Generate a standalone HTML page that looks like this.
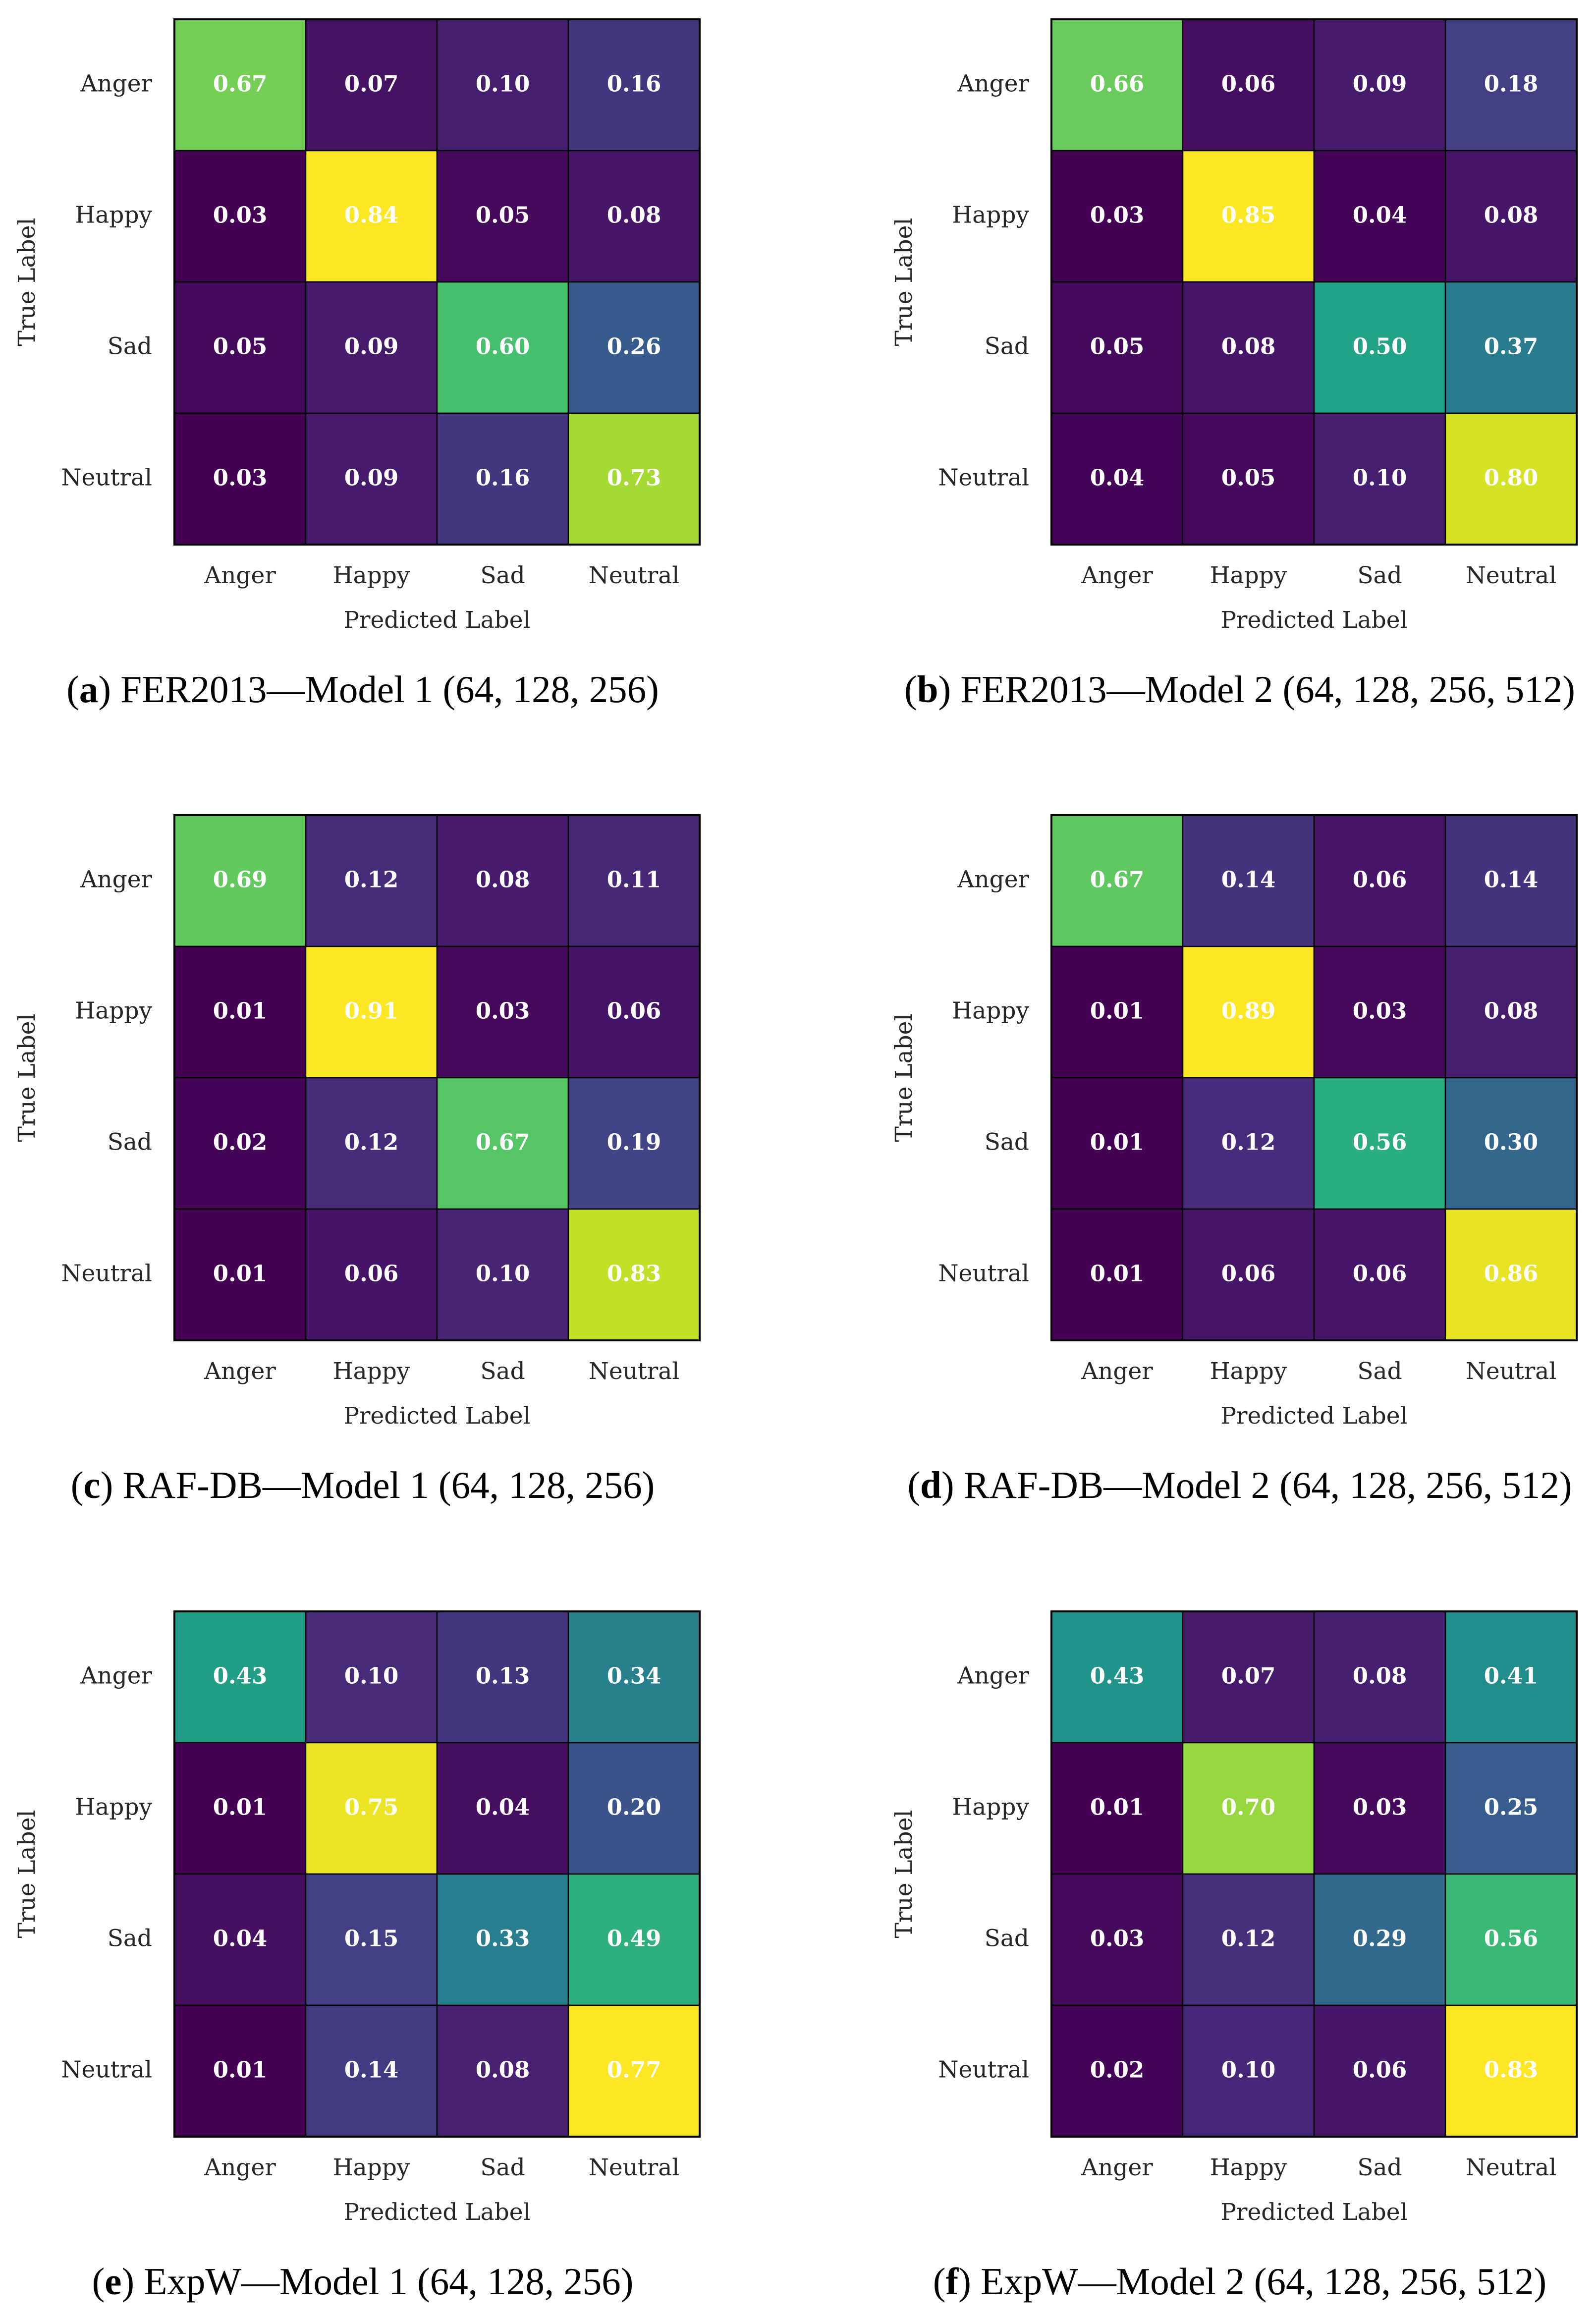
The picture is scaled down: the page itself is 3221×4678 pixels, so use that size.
<!DOCTYPE html>
<html><head><meta charset="utf-8"><style>
html,body{margin:0;padding:0;background:#fff;}
svg{display:block;}
</style></head><body>
<svg id="fig" xmlns="http://www.w3.org/2000/svg" width="3221" height="4678" viewBox="0 0 3221 4678"></svg>
<script>
const classLabels = ["Anger","Happy","Sad","Neutral"];
const matA = [[0.67,0.07,0.10,0.16],[0.03,0.84,0.05,0.08],[0.05,0.09,0.60,0.26],[0.03,0.09,0.16,0.73]];
const matB = [[0.66,0.06,0.09,0.18],[0.03,0.85,0.04,0.08],[0.05,0.08,0.50,0.37],[0.04,0.05,0.10,0.80]];
const matC = [[0.69,0.12,0.08,0.11],[0.01,0.91,0.03,0.06],[0.02,0.12,0.67,0.19],[0.01,0.06,0.10,0.83]];
const matD = [[0.67,0.14,0.06,0.14],[0.01,0.89,0.03,0.08],[0.01,0.12,0.56,0.30],[0.01,0.06,0.06,0.86]];
const matE = [[0.43,0.10,0.13,0.34],[0.01,0.75,0.04,0.20],[0.04,0.15,0.33,0.49],[0.01,0.14,0.08,0.77]];
const matF = [[0.43,0.07,0.08,0.41],[0.01,0.70,0.03,0.25],[0.03,0.12,0.29,0.56],[0.02,0.10,0.06,0.83]];
const panelLetters = ["a","b","c","d","e","f"];
const panelTitles = [" FER2013—Model 1 (64, 128, 256)"," FER2013—Model 2 (64, 128, 256, 512)"," RAF-DB—Model 1 (64, 128, 256)"," RAF-DB—Model 2 (64, 128, 256, 512)"," ExpW—Model 1 (64, 128, 256)"," ExpW—Model 2 (64, 128, 256, 512)"];
const matrices = [matA,matB,matC,matD,matE,matF];

const viridis = ["#440154","#482475","#414487","#355f8d","#2a788e","#21918c","#22a884","#44bf70","#7ad151","#bddf26","#fde725"];
function hex(h){return [1,3,5].map(i=>parseInt(h.substr(i,2),16));}
function cmap(t){
  t=Math.max(0,Math.min(1,t));
  const p=t*10, i=Math.min(9,Math.floor(p)), f=p-i;
  const a=hex(viridis[i]), b=hex(viridis[i+1]);
  return "rgb("+a.map((v,k)=>Math.round(v+(b[k]-v)*f)).join(",")+")";
}
const NS="http://www.w3.org/2000/svg";
const svg=document.getElementById("fig");
function mk(tag,attrs,parent){const e=document.createElementNS(NS,tag);for(const k in attrs)e.setAttribute(k,attrs[k]);parent.appendChild(e);return e;}

const colX=[352,2122], rowY=[39,1645,3252], size=1060;
const serif='"DejaVu Serif","Liberation Serif",serif';
matrices.forEach((m,p)=>{
  const x0=colX[p%2], y0=rowY[Math.floor(p/2)];
  const cell=size/4;
  const g=mk("g",{},svg);
  
  
  const flat=m.flat(), vmin=Math.min(...flat), vmax=Math.max(...flat);
  m.forEach((row,r)=>row.forEach((v,c)=>{
    const rect=mk("rect",{x:x0+c*cell,y:y0+r*cell,width:cell,height:cell,fill:cmap((v-vmin)/(vmax-vmin)),stroke:"#000","stroke-width":2.5},g);
    
    
    const t=mk("text",{x:x0+c*cell+cell/2,y:y0+r*cell+cell/2+13,"text-anchor":"middle","font-family":serif,"font-weight":"bold","font-size":45,fill:"#fff"},g);
    t.textContent=v.toFixed(2);
    
    
  }));
  const border=mk("rect",{x:x0,y:y0,width:size,height:size,fill:"none",stroke:"#000","stroke-width":4},g);
  
  
  classLabels.forEach((lab,i)=>{
    const ty=mk("text",{x:x0-45,y:y0+i*cell+cell/2+13,"text-anchor":"end","font-family":serif,"font-size":47,fill:"#262626"},g);
    ty.textContent=lab;
    
    
    const tx=mk("text",{x:x0+i*cell+cell/2,y:y0+size+78,"text-anchor":"middle","font-family":serif,"font-size":47,fill:"#262626"},g);
    tx.textContent=lab;
    
    
  });
  const xl=mk("text",{x:x0+size/2,y:y0+size+168,"text-anchor":"middle","font-family":serif,"font-size":47,fill:"#262626"},g);
  xl.textContent="Predicted Label";
  
  
  const yx=x0-282, yy=y0+size/2;
  const yl=mk("text",{x:yx,y:yy,"text-anchor":"middle","font-family":serif,"font-size":47,fill:"#262626",transform:"rotate(-90 "+yx+" "+yy+")"},g);
  yl.textContent="True Label";
  
  
  const cap=mk("text",{x:x0+380,y:y0+1378,"text-anchor":"middle","font-family":'"Liberation Serif",serif',"font-size":77,fill:"#000"},g);
  
  
  const s1=mk("tspan",{},cap); s1.textContent="(";
  const s2=mk("tspan",{"font-weight":"bold"},cap); s2.textContent=panelLetters[p];
  const s3=mk("tspan",{},cap); s3.textContent=")"+panelTitles[p];
});
</script>
</body></html>
